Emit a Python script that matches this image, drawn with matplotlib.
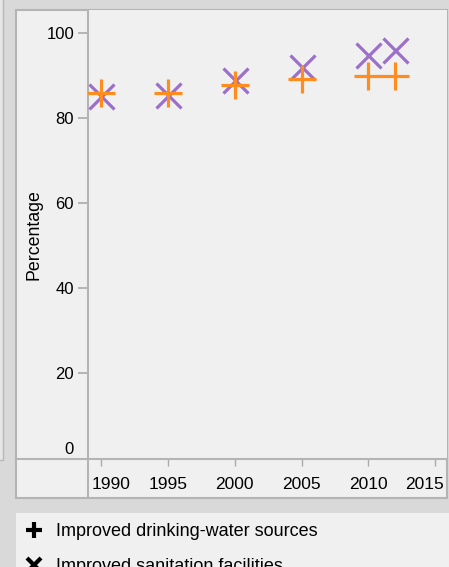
import matplotlib.pyplot as plt
from matplotlib.patches import Rectangle
from matplotlib.lines import Line2D
from matplotlib.transforms import ScaledTranslation

years = [1990, 1995, 2000, 2005, 2010, 2012]
water = [85.9, 85.9, 87.9, 89.2, 89.9, 89.9]
sanitation = [85.3, 85.4, 88.9, 92.0, 94.8, 96.0]
xticks = [1990, 1995, 2000, 2005, 2010, 2015]
yticks = [0, 20, 40, 60, 80, 100]

plt.rcParams['font.family'] = ['Liberation Sans', 'DejaVu Sans']

W, H = 449, 567
fig = plt.figure(figsize=(W / 100, H / 100), dpi=100, facecolor='#d9d9d9')

def box(x0, y0, x1, y1, fc='#f0f0f0', ec='#b4b4b4', lw=1.5):
    # pixel coords, y from top
    fig.add_artist(Rectangle((x0 / W, 1 - y1 / H), (x1 - x0) / W, (y1 - y0) / H,
                             transform=fig.transFigure, facecolor=fc, edgecolor=ec,
                             lw=lw, zorder=-10))

def line(x0, y0, x1, y1, c='#b4b4b4', lw=1.5):
    fig.add_artist(Line2D([x0 / W, x1 / W], [1 - y0 / H, 1 - y1 / H],
                          transform=fig.transFigure, color=c, lw=lw, zorder=-5))

# side strip and panels
box(-2, -2, 3, 460, fc='#e6e6e6', ec='#b8b8b8', lw=1.0)
box(16, 10, 447, 498)
box(16, 513, 451, 570, ec='none')
line(88, 459, 88, 498)
line(16, 459, 88, 459)

ax = fig.add_axes([88 / W, 1 - 459 / H, (447 - 88) / W, (459 - 10) / H])
ax.set_facecolor('#f0f0f0')
for s in ['top', 'right']:
    ax.spines[s].set_visible(False)
for s in ['left', 'bottom']:
    ax.spines[s].set_color('#b4b4b4')
    ax.spines[s].set_linewidth(1.5)

ax.plot(years, sanitation, linestyle='none', marker='x', markersize=18,
        mew=2.3, color='#9b6fca', zorder=3)
ax.plot(years, water, linestyle='none', marker='+', markersize=20,
        mew=2.3, color='#ff8c1f', zorder=4)

ax.set_xlim(1989.0, 2015.9)
ax.set_ylim(-0.3, 105.5)
ax.set_xticks(xticks)
ax.set_yticks(yticks)
ax.tick_params(axis='x', colors='#aaaaaa', labelcolor='black', length=5,
               width=1, pad=8, labelsize=12.5)
ax.tick_params(axis='y', colors='#aaaaaa', labelcolor='black', length=7,
               width=1.2, pad=3, labelsize=12)
ax.yaxis.get_major_ticks()[0].tick1line.set_visible(False)

xl = ax.get_xticklabels()
xl[0].set_transform(xl[0].get_transform() + ScaledTranslation(0.10, 0, fig.dpi_scale_trans))
xl[-1].set_transform(xl[-1].get_transform() + ScaledTranslation(-0.10, 0, fig.dpi_scale_trans))
yl = ax.get_yticklabels()
yl[0].set_transform(yl[0].get_transform() + ScaledTranslation(0, 0.10, fig.dpi_scale_trans))

ax.set_ylabel('Percentage', fontsize=12.8)
ax.yaxis.set_label_coords(-0.128, 0.5)

handles = [Line2D([], [], linestyle='none', marker='+', markersize=12, mew=3, color='black'),
           Line2D([], [], linestyle='none', marker='x', markersize=10, mew=3, color='black')]
fig.legend(handles, ['Improved drinking-water sources', 'Improved sanitation facilities'],
           loc='upper left', bbox_to_anchor=(23 / W, 1 - 523 / H), frameon=False,
           fontsize=13, borderpad=0, handlelength=1.2, handletextpad=0.6,
           labelspacing=1.0, borderaxespad=0)

fig.savefig('out.png', dpi=100, facecolor=fig.get_facecolor())
